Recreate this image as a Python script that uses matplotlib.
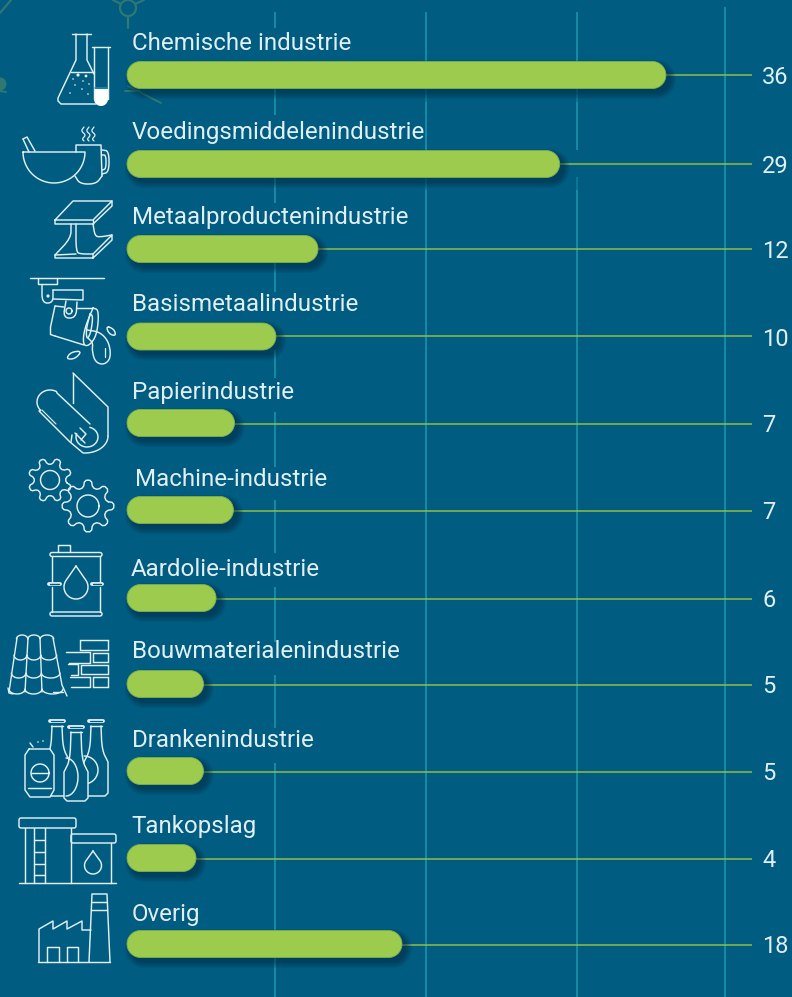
"""Horizontal rounded bars per industry on a dark blue panel, with line icons."""

import numpy as np
import matplotlib

matplotlib.use("Agg")
import matplotlib.pyplot as plt
from matplotlib.patches import Circle, FancyBboxPatch, Polygon, Rectangle

categories = [
    "Chemische industrie",
    "Voedingsmiddelenindustrie",
    "Metaalproductenindustrie",
    "Basismetaalindustrie",
    "Papierindustrie",
    "Machine-industrie",
    "Aardolie-industrie",
    "Bouwmaterialenindustrie",
    "Drankenindustrie",
    "Tankopslag",
    "Overig",
]
value_labels = ["36", "29", "12", "10", "7", "7", "6", "5", "5", "4", "18"]
# Bar lengths as drawn; the artwork is not strictly proportional to the labels.
bar_lengths = [36.0, 28.9, 12.76, 9.95, 7.18, 7.11, 5.95, 5.11, 5.11, 4.61, 18.37]

BG = "#005c80"
GREEN = "#9dcb4e"
GRID = "#168ea6"
LEADER = "#8fbf4a"
WHITE = "#e1eff3"
FAINT = "#2f7873"
W, H = 792, 997
PX_PER_UNIT = 14.97
X0 = 127

row_y = [75, 164, 249, 336.5, 423, 510, 598, 684, 771, 858, 944]
label_base = [50, 139, 224, 311, 399, 486, 576, 658, 747, 833, 921]
label_x = [131.5, 131.5, 131.5, 131.5, 131.5, 135, 131, 131.5, 131.5, 131, 131.5]

# grid line x (px) and the vertical stretches where each one is visible
grid_spans = {
    275: [(12, 28), (88, 115), (177, 203), (263, 292), (350, 378),
          (412, 467), (500, 553), (587, 642), (675, 728), (763, 997)],
    426: [(12, 61), (102, 150), (190, 997)],
    577: [(12, 61), (102, 150), (190, 997)],
    725: [(7, 997)],
}
# stretches under a bar where the line only shows dimly
grid_dim = {426: [(88, 102), (177, 190)], 577: [(88, 102), (177, 190)]}


def line(ax, pts, lw=1.05, color=WHITE, closed=False, **kw):
    pts = np.array(pts, dtype=float)
    if closed:
        pts = np.vstack([pts, pts[0]])
    ax.plot(pts[:, 0], pts[:, 1], color=color, lw=lw,
            solid_capstyle="round", solid_joinstyle="round", **kw)


def smooth(pts, n=3, closed=False):
    """Round off a rough polyline by corner cutting."""
    pts = np.array(pts, dtype=float)
    for _ in range(n):
        if closed:
            nxt = np.roll(pts, -1, axis=0)
            pts = np.vstack(np.stack([0.75 * pts + 0.25 * nxt, 0.25 * pts + 0.75 * nxt], axis=1))
        else:
            a, b = pts[:-1], pts[1:]
            mid = np.vstack(np.stack([0.75 * a + 0.25 * b, 0.25 * a + 0.75 * b], axis=1))
            pts = np.vstack([pts[0], mid, pts[-1]])
    return np.vstack([pts, pts[0]]) if closed else pts


def arc(cx, cy, rx, ry, a0, a1, n=30):
    t = np.radians(np.linspace(a0, a1, n))
    return np.column_stack([cx + rx * np.cos(t), cy + ry * np.sin(t)])


def circle(ax, cx, cy, r, lw=1.05, color=WHITE):
    line(ax, arc(cx, cy, r, r, 0, 360, 50), lw=lw, color=color)


def drop(ax, cx, top, bottom, r):
    body = arc(cx, bottom - r, r, r, -30, 210)
    line(ax, np.vstack([[cx, top], body, [cx, top]]))


def gear(ax, cx, cy, r_out, r_in, r_hole, teeth=8, phase=0.0):
    a = []
    step = 360 / teeth
    for i in range(teeth):
        b = phase + i * step
        for da, r in [(-0.30, r_in), (-0.17, r_out), (0.17, r_out), (0.30, r_in)]:
            t = np.radians(b + da * step)
            a.append([cx + r * np.cos(t), cy + r * np.sin(t)])
    line(ax, smooth(a, n=1, closed=True))
    circle(ax, cx, cy, r_hole)


def pill(y, length, h=27.0, dx=0.0, dy=0.0, grow=0.0):
    """Outline of a bar with circular ends, x in value units, y in pixels."""
    r = h / 2 + grow
    cy = y + dy
    left = (dx - grow) / PX_PER_UNIT
    right = length + (dx + grow) / PX_PER_UNIT
    rx = r / PX_PER_UNIT
    return np.vstack([
        arc(left + rx, cy, rx, r, 90, 270, 24),
        arc(right - rx, cy, rx, r, -90, 90, 24),
    ])


def draw_background(ax):
    # faint molecule decoration behind the top of the chart
    circle(ax, 128, 8, 8, lw=1.6, color=FAINT)
    line(ax, [(128, 16), (128, 28)], lw=1.6, color=FAINT)
    line(ax, [(135, 4), (144, 0)], lw=1.6, color=FAINT)
    line(ax, [(121, 4), (113, 0)], lw=1.6, color=FAINT)
    line(ax, [(0, 13), (11, 0)], lw=1.6, color=FAINT)
    ax.add_patch(Circle((0, 84), 6.5, color=FAINT, lw=0))
    line(ax, [(0, 91), (6, 92)], lw=1.4, color=FAINT)
    line(ax, [(125, 91), (140, 91)], lw=1.4, color=FAINT)
    line(ax, [(128, 86), (161, 103)], lw=1.4, color=FAINT)


def flask(ax):
    line(ax, [(72, 34), (91, 34)])
    line(ax, [(76, 34), (76, 60), (58, 98), (58, 101), (61, 104), (96, 104)])
    line(ax, [(87, 34), (87, 60), (94, 74)])
    line(ax, [(71, 72), (94, 72)])
    line(ax, [(92, 47), (110, 47)])
    line(ax, [(94, 47), (94, 99)])
    line(ax, [(108, 47), (108, 99)])
    fill = np.vstack([[(94, 89), (108, 89)], arc(101, 99, 7, 7, 0, 180)])
    ax.add_patch(Polygon(fill, color="white", lw=0))
    line(ax, [(95, 88), (107, 88)], color="#1a93a8", lw=1.1)
    dots = [(78, 75), (86, 76), (73, 79), (83, 81), (89, 84), (75, 85),
            (82, 89), (70, 93), (88, 94)]
    sizes = [1.6, 1.4, 0.8, 0.8, 0.8, 0.8, 0.8, 0.8, 0.8]
    for (x, y), s in zip(dots, sizes):
        ax.add_patch(Circle((x, y), s, color=WHITE, lw=0))


def mortar(ax):
    line(ax, np.vstack([[(23, 152), (85, 152)], arc(54, 152, 31, 31, 0, 180), [(23, 152)]]))
    line(ax, [(23, 139), (27, 137), (35, 151)])
    line(ax, [(23, 139), (29, 152)])
    line(ax, [(76, 152), (76, 145), (101, 145), (102, 176)])
    line(ax, smooth([(75, 176), (80, 184), (96, 184), (102, 176)]))
    line(ax, smooth([(102, 150), (109, 151), (109, 172), (102, 174)], n=2))
    line(ax, smooth([(102, 155), (106, 155), (106, 169), (102, 170)], n=2))
    for x in (84, 89, 94):
        line(ax, smooth([(x, 127), (x - 3, 131), (x + 2, 135), (x - 2, 139), (x, 141)], n=2), lw=0.9)


def beam(ax):
    line(ax, [(55, 220), (73, 201), (112, 201), (93, 220)], closed=True)
    line(ax, [(55, 220), (55, 224), (93, 224), (112, 206), (112, 201)])
    line(ax, [(93, 220), (93, 224)])
    line(ax, smooth([(71, 224), (71, 238), (55, 255)], n=2))
    line(ax, smooth([(76, 224), (76, 252), (81, 254), (93, 254)], n=2))
    line(ax, smooth([(93, 224), (95, 236), (100, 237), (112, 235)], n=2))
    line(ax, [(55, 255), (55, 258), (93, 258), (112, 240), (112, 235), (93, 254), (93, 258)])
    line(ax, [(55, 255), (76, 254)])


def ladle(ax):
    line(ax, [(30, 278), (104, 278)])
    line(ax, [(38, 278), (38, 284), (57, 284), (57, 278)])
    line(ax, smooth([(42, 285), (42, 303), (53, 303), (53, 290)], n=2))
    ax.add_patch(Circle((48, 296), 1.6, color=WHITE, lw=0))
    line(ax, [(53, 290), (83, 290), (83, 300), (53, 299)])
    line(ax, smooth([(66, 301), (63, 318), (76, 318), (77, 302)], n=2))
    circle(ax, 69, 311, 3)
    line(ax, [(64, 307), (55, 306)])
    line(ax, smooth([(55, 306), (49, 334), (55, 336)], n=1))
    line(ax, [(55, 336), (84, 345)])
    line(ax, [(76, 308), (93, 308)])
    line(ax, smooth([(93, 308), (99, 310), (97, 335), (89, 346), (83, 345), (84, 330), (93, 308)], n=3))
    line(ax, smooth([(90, 314), (93, 316), (91, 332), (87, 340), (86, 330), (90, 314)], n=2))
    line(ax, smooth([(87, 330), (100, 332), (109, 342), (111, 358), (104, 365), (95, 362),
                     (92, 350), (93, 343), (88, 338)], n=3))
    line(ax, [(105, 348), (105, 357)], lw=0.9)
    line(ax, smooth([(106, 326), (114, 329), (116, 336), (109, 334)], n=2, closed=True))
    line(ax, smooth([(82, 351), (71, 352), (66, 359), (75, 359)], n=2, closed=True))


def paper(ax):
    line(ax, [(73, 373), (108, 407), (108, 436)])
    line(ax, np.vstack([arc(85, 436, 23, 17, 0, 95), [(70, 442), (39, 411)],
                        arc(50, 402, 13, 12, 135, 300), [(57, 393), (90, 424)]]))
    line(ax, [(73, 373), (73, 403)])
    line(ax, arc(87, 437, 11, 10, -75, 200))
    line(ax, [(75, 433), (85, 443)])
    line(ax, [(80, 428), (86, 434), (81, 440)])
    line(ax, [(42, 410), (56, 424)], lw=0.8)
    line(ax, [(72, 435), (71, 442)])


def gears(ax):
    gear(ax, 50, 480, 22, 16, 9.5, phase=22)
    gear(ax, 88, 506, 26, 19, 11, phase=0)


def barrel(ax):
    line(ax, [(58, 552), (58, 545), (70, 545), (70, 552)])
    ax.add_patch(FancyBboxPatch((50, 552.5), 52, 4, boxstyle="round,pad=0,rounding_size=2",
                                fill=False, ec=WHITE, lw=1.05))
    ax.add_patch(FancyBboxPatch((50, 612), 52, 4, boxstyle="round,pad=0,rounding_size=2",
                                fill=False, ec=WHITE, lw=1.05))
    line(ax, [(52, 557), (52, 582)])
    line(ax, [(100, 557), (100, 582)])
    line(ax, [(52, 587), (52, 612)])
    line(ax, [(100, 587), (100, 612)])
    line(ax, [(49, 584), (60, 584)], lw=2.8)
    line(ax, [(92, 584), (102, 584)], lw=2.8)
    line(ax, [(50, 584), (59, 584)], lw=1.0, color=BG)
    line(ax, [(93, 584), (101, 584)], lw=1.0, color=BG)
    drop(ax, 76, 566, 599, 12)


def tiles(ax):
    # ridge lines, each given as x at the top and at the bottom of the roof
    ridges = [(17, 9), (28, 25), (40, 42), (53, 63)]
    top, bottom = 638, 692
    for y in (top + 4, 658, 676, bottom):
        f = (y - top) / (bottom - top)
        xs = [a + (b - a) * f for a, b in ridges]
        xs = xs + [xs[-1] + 0.1]
        pts = []
        for a, b in zip(xs[:-2], xs[1:-1]):
            w = (b - a) / 2
            pts.append(arc(a + w, y - 3, w, 5 if y > 645 else -4, 180, 0, 14))
        line(ax, np.vstack(pts), lw=1.0)
    line(ax, [(8, 688), (9, 693), (13, 694)], lw=1.0)
    for a, b in ridges[:-1]:
        line(ax, [(a, top), (b, bottom)], lw=1.0)
    line(ax, [(53, top), (62, 685), (67, 696)], lw=1.0)
    line(ax, [(53, 692), (63, 692)], lw=1.0)
    # bricks
    for x, y, w, h in [(80, 640, 28, 10), (93, 653, 15, 9), (81, 665, 27, 9),
                       (93, 677, 15, 10)]:
        ax.add_patch(Rectangle((x, y), w, h, fill=False, ec=WHITE, lw=1.05))
    line(ax, [(66, 652), (90, 652), (90, 663), (69, 663)])
    line(ax, [(68, 664), (78, 664), (78, 675), (71, 675)])
    line(ax, [(70, 677), (90, 677), (90, 687), (71, 687)])


def bottle(ax, x, top, bottom, neck_end, zorder=2):
    outline = np.vstack([
        smooth([(x - 5, top + 5), (x - 6, neck_end), (x - 12, neck_end + 12)], n=2),
        [(x - 12, bottom - 3), (x - 9, bottom), (x + 9, bottom), (x + 12, bottom - 3)],
        smooth([(x + 12, neck_end + 12), (x + 6, neck_end), (x + 5, top + 5)], n=2),
    ])
    ax.add_patch(Polygon(outline, color=BG, lw=0, zorder=zorder))
    line(ax, outline, zorder=zorder + 0.1)
    line(ax, [(x - 7, top), (x + 7, top)], lw=2.8, zorder=zorder + 0.1)
    line(ax, [(x - 6, top), (x + 6, top)], lw=0.9, color=BG, zorder=zorder + 0.2)
    line(ax, [(x - 6, top + 5), (x + 6, top + 5)], zorder=zorder + 0.1)


def drinks(ax):
    bottle(ax, 96, 721, 796, 750, zorder=2)
    line(ax, arc(84, 770, 14, 14, -90, 90)[:], zorder=2.2)
    bottle(ax, 57, 721, 796, 748, zorder=3)
    bottle(ax, 76, 727, 801, 760, zorder=4)
    line(ax, arc(66, 777, 12, 19, -90, 90), zorder=4.2)
    can = [(29, 749), (50, 749), (54, 755), (54, 790), (50, 797), (30, 797), (25, 790),
           (25, 755), (29, 749)]
    ax.add_patch(Polygon(can, color=BG, lw=0, zorder=5))
    line(ax, can, zorder=5.1)
    circle_pts = arc(40, 773, 9, 9, 0, 360, 50)
    line(ax, circle_pts, zorder=5.1)
    line(ax, [(31, 773), (49, 773)], zorder=5.1)
    line(ax, [(28, 788), (51, 788)], zorder=5.1)
    line(ax, [(30, 743), (33, 747)], zorder=5.1)
    ax.add_patch(Circle((38, 742), 0.8, color=WHITE, lw=0))
    ax.add_patch(Circle((43, 741), 0.8, color=WHITE, lw=0))


def tank(ax):
    ax.add_patch(FancyBboxPatch((19, 818), 57, 10, boxstyle="round,pad=0,rounding_size=2",
                                fill=False, ec=WHITE, lw=1.05))
    ax.add_patch(FancyBboxPatch((71, 834), 45, 9, boxstyle="round,pad=0,rounding_size=2",
                                fill=False, ec=WHITE, lw=1.05))
    line(ax, [(19, 883), (116, 883)])
    line(ax, [(25, 828), (25, 883)])
    line(ax, [(34, 828), (34, 883)])
    line(ax, [(45, 828), (45, 883)])
    line(ax, [(71, 828), (71, 883)])
    line(ax, [(111, 843), (111, 883)])
    for y in (840, 852, 864, 875):
        line(ax, [(34, y), (45, y)])
    drop(ax, 93, 851, 874, 8.5)


def factory(ax):
    line(ax, [(39, 962), (39, 929), (53, 921), (53, 929), (67, 921), (67, 929), (82, 921),
              (82, 930), (91, 930)])
    line(ax, [(38, 962), (110, 962)])
    line(ax, [(89, 962), (92, 894), (107, 894), (110, 962)])
    line(ax, [(92, 902), (107, 902)])
    line(ax, [(91, 910), (107, 910)])
    line(ax, [(47, 962), (47, 947), (59, 947), (59, 962)])
    line(ax, [(67, 962), (67, 947), (78, 947), (78, 962)])


def draw_bars(ax):
    for px, spans in grid_spans.items():
        x = (px - X0) / PX_PER_UNIT
        for y0, y1 in spans:
            ax.vlines(x, y0, y1, color=GRID, lw=1.35, zorder=1)
        for y0, y1 in grid_dim.get(px, []):
            ax.vlines(x, y0, y1, color=GRID, lw=1.35, alpha=0.55, zorder=1)

    for cat, lab, val, y, by, lx in zip(categories, value_labels, bar_lengths, row_y,
                                        label_base, label_x):
        # leader from the end of the bar to the value
        ax.hlines(np.floor(y) + 0.5, val, (752 - X0) / PX_PER_UNIT, color=LEADER, lw=1.1, zorder=2)
        # soft shadow, stacked translucent copies
        for grow in (6, 4.8, 3.6, 2.5, 1.5, 0.6):
            ax.add_patch(Polygon(pill(y, val, dx=4, dy=4.5, grow=grow), fc="#00253f", ec="none",
                                 alpha=0.10, zorder=3))
        ax.add_patch(Polygon(pill(y, val), fc=GREEN, ec="#7fb04f", lw=0.6, zorder=4))
        ax.text((lx - X0) / PX_PER_UNIT, by, cat, color=WHITE, fontsize=17.35,
                family="Roboto", va="baseline", ha="left", zorder=5)
        ax.text((762 - X0) / PX_PER_UNIT, y + 9, lab, color=WHITE, fontsize=17,
                family="Roboto", va="baseline", ha="left", zorder=5)


def main():
    fig = plt.figure(figsize=(W / 100, H / 100), dpi=100, facecolor=BG)

    # icons and decoration live in plain pixel coordinates
    px = fig.add_axes([0, 0, 1, 1], zorder=1)
    px.set(xlim=(0, W), ylim=(H, 0))
    px.axis("off")
    draw_background(px)

    ax = fig.add_axes([0, 0, 1, 1], zorder=2)
    ax.patch.set_alpha(0)
    ax.set(xlim=(-X0 / PX_PER_UNIT, (W - X0) / PX_PER_UNIT), ylim=(H, 0))
    ax.axis("off")
    draw_bars(ax)

    icons = fig.add_axes([0, 0, 1, 1], zorder=3)
    icons.patch.set_alpha(0)
    icons.set(xlim=(0, W), ylim=(H, 0))
    icons.axis("off")
    for fn in (flask, mortar, beam, ladle, paper, gears, barrel, tiles, drinks, tank, factory):
        fn(icons)

    fig.savefig("out.png", dpi=100, facecolor=BG)
    plt.close(fig)


if __name__ == "__main__":
    main()
